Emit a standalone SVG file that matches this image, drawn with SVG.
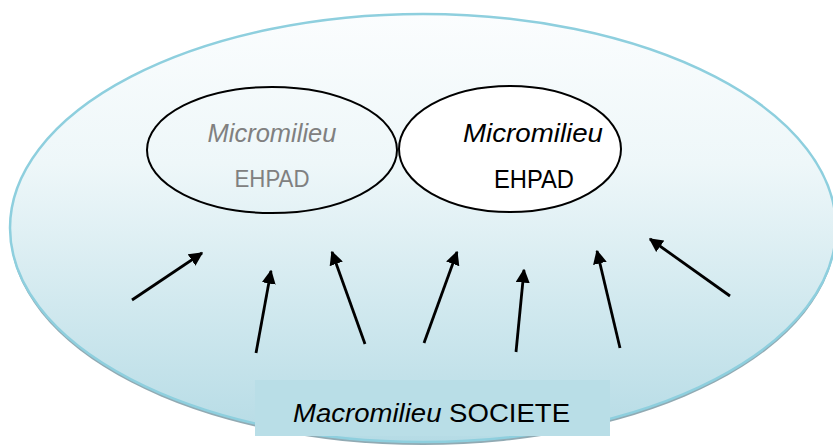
<svg xmlns="http://www.w3.org/2000/svg" width="833" height="446" viewBox="0 0 833 446">
  <defs>
    <linearGradient id="bg" x1="0" y1="0" x2="0" y2="1">
      <stop offset="0" stop-color="#fbfdfe"/>
      <stop offset="0.35" stop-color="#eef7f9"/>
      <stop offset="1" stop-color="#b5dbe5"/>
    </linearGradient>
    <marker id="ah" viewBox="0 0 10 10" refX="9" refY="5" markerWidth="5" markerHeight="5" orient="auto" markerUnits="strokeWidth">
      <path d="M0,0 L10,5 L0,10 Z" fill="#000"/>
    </marker>
    <style>
      .txt { font-family: "Liberation Sans", Arial, sans-serif; }
      .it { font-style: italic; }
      .arr { stroke: #000; stroke-width: 2.8; fill: none; marker-end: url(#ah); }
      .small { stroke: #000; stroke-width: 2; }
    </style>
  </defs>

  <g id="macro">
    <ellipse cx="423" cy="231" rx="413" ry="214" fill="#91aab3"/>
    <ellipse cx="423" cy="228" rx="413" ry="214" fill="url(#bg)" stroke="#8ecfde" stroke-width="2.5"/>
  </g>

  <g id="micro1">
    <ellipse cx="272" cy="150" rx="125" ry="63" fill="none" class="small"/>
    <text class="txt it" x="272" y="142" font-size="25" fill="#808080" text-anchor="middle" textLength="129" lengthAdjust="spacingAndGlyphs">Micromilieu</text>
    <text class="txt" x="272" y="187" font-size="24" fill="#808080" text-anchor="middle" textLength="75" lengthAdjust="spacingAndGlyphs">EHPAD</text>
  </g>

  <g id="micro2">
    <ellipse cx="510" cy="149" rx="111" ry="63" fill="#fff" class="small"/>
    <text class="txt it" x="533" y="142" font-size="26" fill="#000" text-anchor="middle" textLength="140" lengthAdjust="spacingAndGlyphs">Micromilieu</text>
    <text class="txt" x="534" y="188" font-size="25" fill="#000" text-anchor="middle" textLength="80" lengthAdjust="spacingAndGlyphs">EHPAD</text>
  </g>

  <g id="connectors">
    <line class="arr" x1="132" y1="300" x2="202" y2="253"/>
    <line class="arr" x1="256" y1="353" x2="271" y2="271"/>
    <line class="arr" x1="365" y1="344" x2="332" y2="252"/>
    <line class="arr" x1="424" y1="343" x2="457" y2="252"/>
    <line class="arr" x1="516" y1="352" x2="524" y2="270"/>
    <line class="arr" x1="620" y1="348" x2="597" y2="251"/>
    <line class="arr" x1="730" y1="296" x2="650" y2="239"/>
  </g>

  <g id="label">
    <rect x="255" y="380" width="355" height="56" fill="#b9dee7"/>
    <text class="txt" x="293" y="422" font-size="25" fill="#000" textLength="277" lengthAdjust="spacingAndGlyphs"><tspan class="it">Macromilieu</tspan> SOCIETE</text>
  </g>
</svg>
